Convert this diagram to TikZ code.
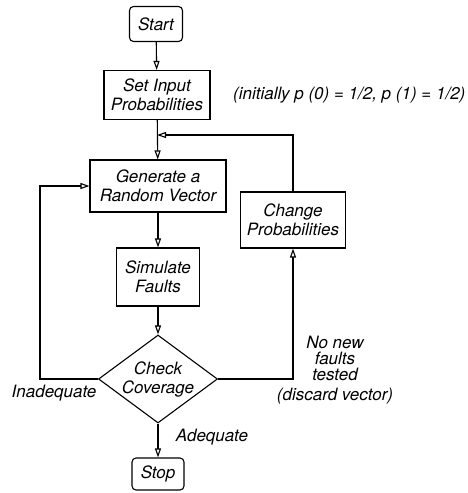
\documentclass[tikz,border=0pt]{standalone}
\usepackage{fontspec}
\setmainfont{TeX Gyre Heros}
\usetikzlibrary{positioning,shapes,arrows.meta}
\tikzset{
  txt/.style={font=\fontsize{17}{19}\selectfont\itshape},
  box/.style={txt,draw,line width=1.1pt,align=center,inner sep=0pt},
  term/.style={box,rounded corners=4pt},
  test/.style={box,diamond,shape aspect=1.35,inner sep=-3pt,minimum width=119pt,minimum height=88pt},
  flow/.style={line width=1.1pt,-{Triangle[open,length=9pt,width=6pt]}},
  lbl/.style={txt,align=center,inner sep=0pt}
}
\begin{document}
\begin{tikzpicture}[x=1pt,y=-1pt]
  \useasboundingbox (0,0) rectangle (468,493);
  % boxes
  \node[term,minimum width=53pt,minimum height=35pt] (start) at (156,24) {Start};
  \node[box,minimum width=106pt,minimum height=49pt] (setin) at (157,95) {Set Input\\Probabilities};
  \node[box,minimum width=136pt,minimum height=52pt] (gen) at (158,186) {Generate a\\Random Vector};
  \node[box,minimum width=83pt,minimum height=58pt] (sim) at (158,277) {Simulate\\Faults};
  \node[test] (chk) at (158,379) {Check\\Coverage};
  \node[term,minimum width=52pt,minimum height=32pt] (stop) at (158,474) {Stop};
  \node[box,minimum width=105pt,minimum height=56pt] (chg) at (293,220) {Change\\Probabilities};
  % labels
  \node[lbl,anchor=west] (init) at (233,95) {(initially p (0) = 1/2, p (1) = 1/2)};
  \node[lbl] (inad) at (54,393) {Inadequate};
  \node[lbl] (adeq) at (212,437) {Adequate};
  \node[lbl,font=\fontsize{17}{16}\selectfont\itshape] (nonew) at (335,370) {No new\\faults\\tested\\[4pt](discard vector)};
  \coordinate (join) at (157,135);
  \coordinate (lft) at (40,379);
  % flow
  \draw[flow] (start) -- (setin);
  \draw[flow] (setin) -- (gen);
  \draw[flow] (gen) -- (sim);
  \draw[flow] (sim) -- (chk);
  \draw[flow] (chk) -- (stop);
  \draw[flow] (chk.west) -- (lft) |- (gen.west);
  \draw[flow] (chk.east) -| (chg.south);
  \draw[flow] (chg.north) |- (join);
\end{tikzpicture}
\end{document}
